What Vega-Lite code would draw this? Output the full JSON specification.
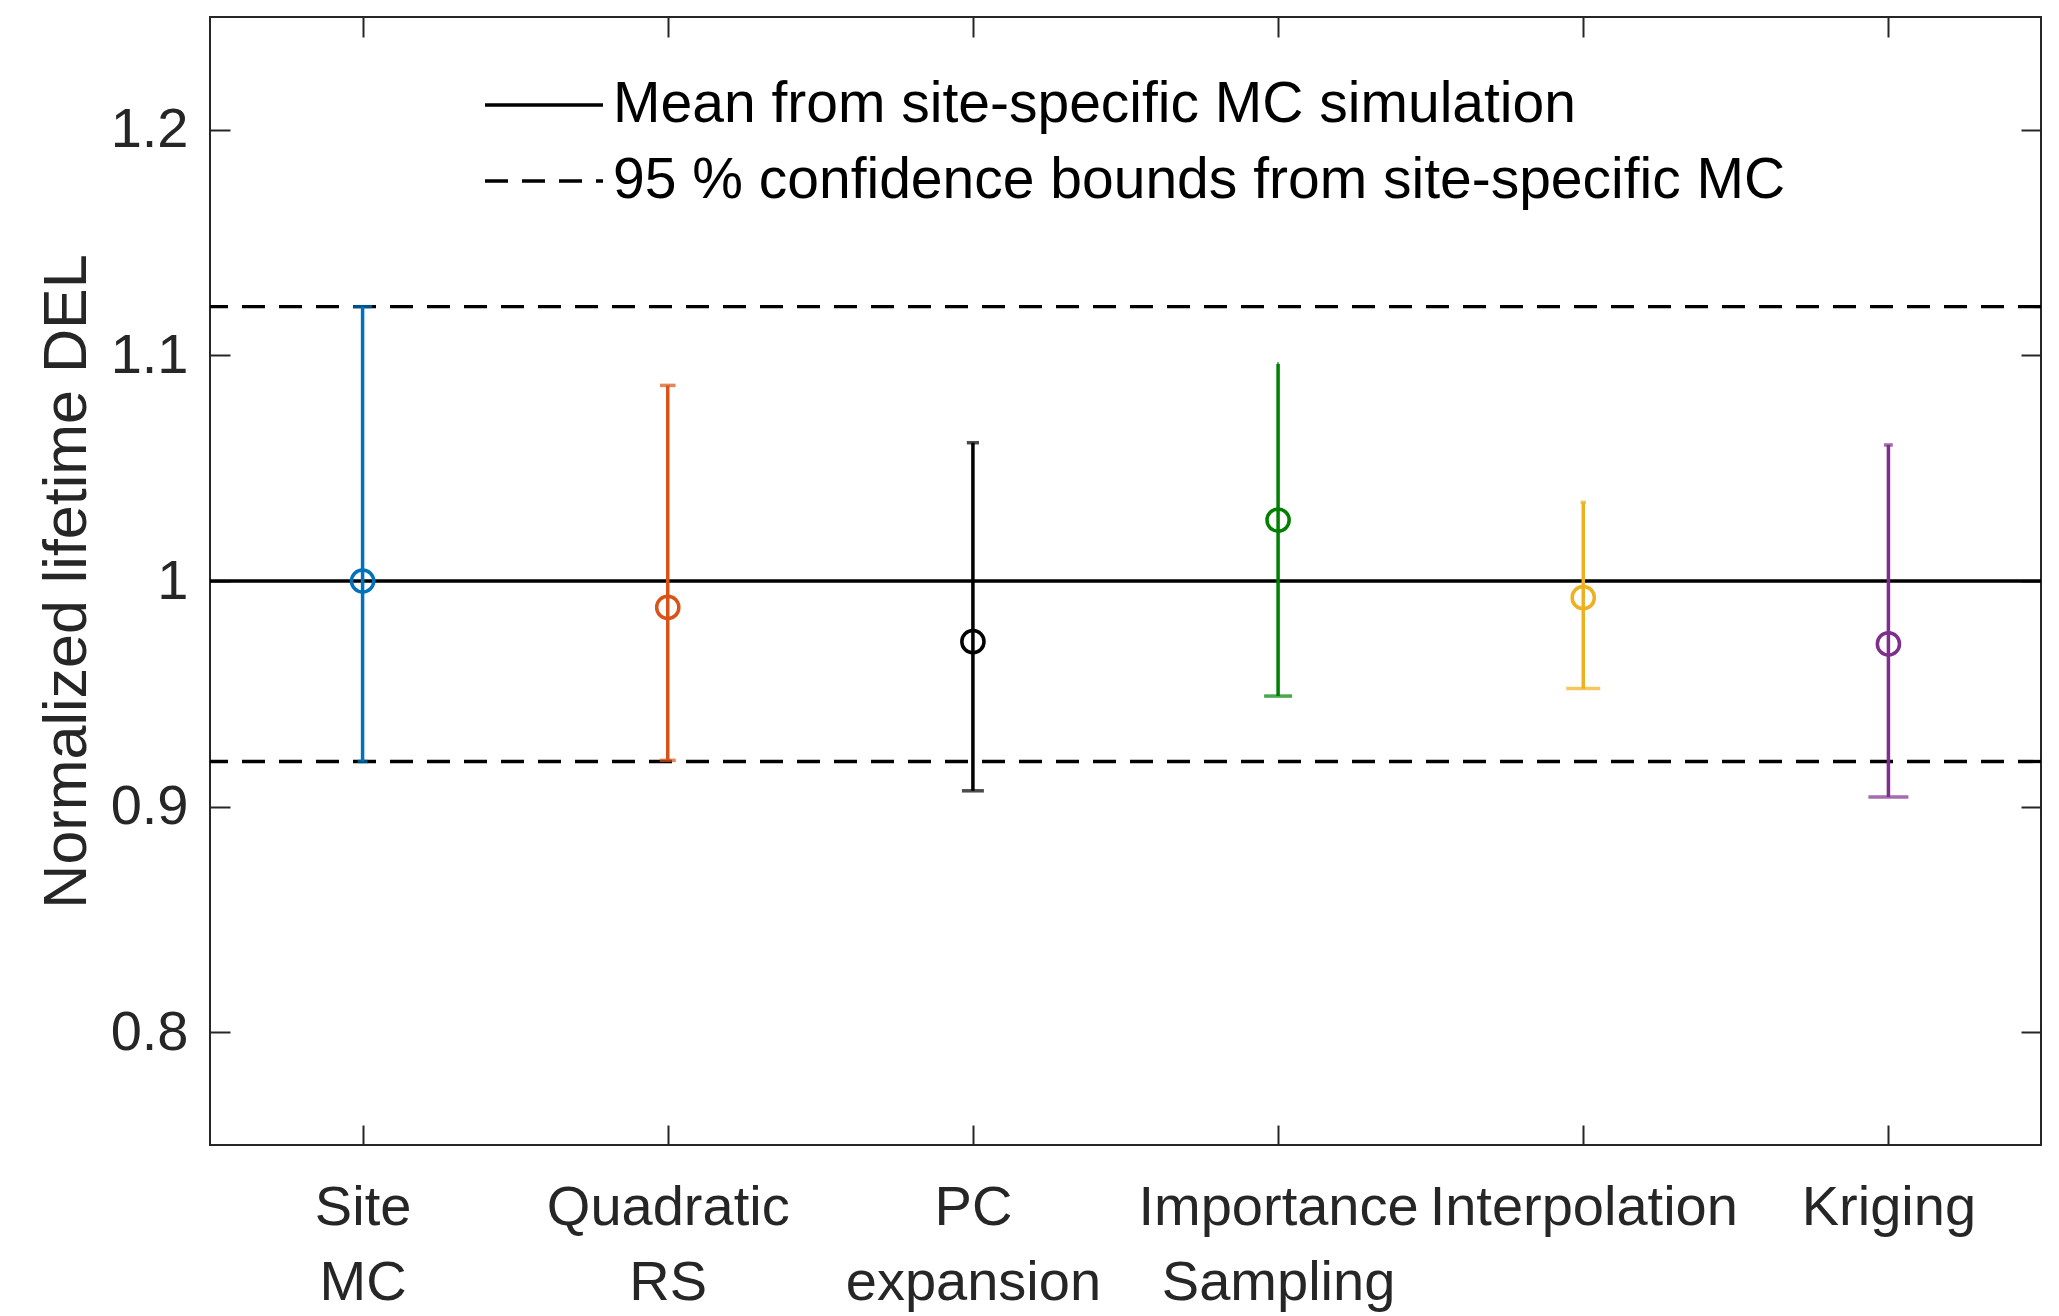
{
  "$schema": "https://vega.github.io/schema/vega-lite/v6.json",
  "width": 1831,
  "height": 1128,
  "autosize": {"type": "none"},
  "padding": {"left": 210, "top": 17, "right": 18, "bottom": 171},
  "background": "white",
  "config": {
    "font": "Liberation Sans",
    "view": {"stroke": "#262626", "strokeWidth": 2},
    "axis": {
      "grid": false,
      "domain": false,
      "labelFont": "Liberation Sans",
      "labelFontSize": 56,
      "labelColor": "#262626",
      "tickColor": "#262626",
      "tickWidth": 2,
      "tickSize": -20
    }
  },
  "datasets": {
    "methods": [
      {"method": "Site MC", "mean": 1.0, "lower": 0.920, "upper": 1.1216},
      {"method": "Quadratic RS", "mean": 0.9883, "lower": 0.9205, "upper": 1.0867},
      {"method": "PC expansion", "mean": 0.9731, "lower": 0.907, "upper": 1.0613},
      {"method": "Importance Sampling", "mean": 1.027, "lower": 0.949, "upper": 1.0962},
      {"method": "Interpolation", "mean": 0.9926, "lower": 0.9523, "upper": 1.0349},
      {"method": "Kriging", "mean": 0.9721, "lower": 0.9043, "upper": 1.0603}
    ],
    "refs": [
      {"kind": "Mean from site-specific MC simulation", "value": 1.0},
      {"kind": "95 % confidence bounds from site-specific MC", "value": 1.1216},
      {"kind": "95 % confidence bounds from site-specific MC", "value": 0.920}
    ]
  },
  "layer": [
    {
      "data": {"name": "refs"},
      "mark": {"type": "rule", "strokeWidth": 3.3, "color": "black"},
      "encoding": {
        "y": {"field": "value", "type": "quantitative", "scale": {"domain": [0.75, 1.25], "nice": false, "zero": false}, "axis": null},
        "strokeDash": {
          "field": "kind",
          "type": "nominal",
          "scale": {"domain": ["Mean from site-specific MC simulation", "95 % confidence bounds from site-specific MC"], "range": [[1, 0], [23, 14]]},
          "legend": {
            "title": null,
            "orient": "none",
            "legendX": 273,
            "legendY": 60,
            "padding": 0,
            "symbolType": "stroke",
            "symbolSize": 13924,
            "symbolStrokeWidth": 3.3,
            "symbolStrokeColor": "black",
            "labelFontSize": 57,
            "labelColor": "black",
            "labelLimit": 2000,
            "labelOffset": 8,
            "clipHeight": 56,
            "rowPadding": 19
          }
        }
      }
    },
    {
      "data": {"name": "methods"},
      "mark": {"type": "rule", "strokeWidth": 3.5},
      "encoding": {
        "x": {
          "field": "method", "type": "nominal",
          "scale": {"type": "point", "domain": ["Site MC", "Quadratic RS", "PC expansion", "Importance Sampling", "Interpolation", "Kriging"], "padding": 0.5},
          "axis": {"orient": "bottom", "title": null, "labelAngle": 0, "labelExpr": "split(datum.label, ' ')", "labelLineHeight": 75, "labelPadding": 55, "labelLimit": 1000}
        },
        "y": {
          "field": "lower", "type": "quantitative",
          "scale": {"domain": [0.75, 1.25], "nice": false, "zero": false},
          "axis": {"orient": "left", "values": [0.8, 0.9, 1, 1.1, 1.2], "format": "~g", "title": "Normalized lifetime DEL", "titleFontSize": 61, "titleFontWeight": "normal", "titleColor": "#262626", "titleFont": "Liberation Sans", "titlePadding": 12, "labelPadding": 42}
        },
        "y2": {"field": "upper"},
        "color": {
          "field": "method", "type": "nominal",
          "scale": {"domain": ["Site MC", "Quadratic RS", "PC expansion", "Importance Sampling", "Interpolation", "Kriging"], "range": ["#0072BD", "#D95319", "#000000", "#008000", "#EDB120", "#7E2F8E"]},
          "legend": null
        }
      }
    },
    {
      "data": {"name": "methods"},
      "mark": {"type": "tick", "thickness": 3.5, "orient": "horizontal"},
      "encoding": {
        "x": {
          "field": "method", "type": "nominal",
          "scale": {"type": "point", "domain": ["Site MC", "Quadratic RS", "PC expansion", "Importance Sampling", "Interpolation", "Kriging"], "padding": 0.5},
          "axis": {"orient": "top", "title": null, "labels": false}
        },
        "y": {
          "field": "lower", "type": "quantitative",
          "scale": {"domain": [0.75, 1.25], "nice": false, "zero": false},
          "axis": {"orient": "right", "values": [0.8, 0.9, 1, 1.1, 1.2], "title": null, "labels": false}
        },
        "size": {
          "field": "method", "type": "nominal",
          "scale": {"type": "ordinal", "domain": ["Site MC", "Quadratic RS", "PC expansion", "Importance Sampling", "Interpolation", "Kriging"], "range": [10, 16, 22, 28, 34, 40]},
          "legend": null
        },
        "color": {"field": "method", "type": "nominal", "legend": null}
      }
    },
    {
      "data": {"name": "methods"},
      "mark": {"type": "tick", "thickness": 3.5, "orient": "horizontal"},
      "encoding": {
        "x": {"field": "method", "type": "nominal", "axis": null},
        "y": {"field": "upper", "type": "quantitative", "axis": null},
        "size": {"field": "method", "type": "nominal", "legend": null},
        "color": {"field": "method", "type": "nominal", "legend": null}
      }
    },
    {
      "data": {"name": "methods"},
      "mark": {"type": "point", "shape": "circle", "filled": false, "size": 491, "strokeWidth": 3.5, "opacity": 1},
      "encoding": {
        "x": {"field": "method", "type": "nominal", "axis": null},
        "y": {"field": "mean", "type": "quantitative", "axis": null},
        "color": {"field": "method", "type": "nominal", "legend": null}
      }
    }
  ],
  "resolve": {"axis": {"x": "independent", "y": "independent"}}
}
